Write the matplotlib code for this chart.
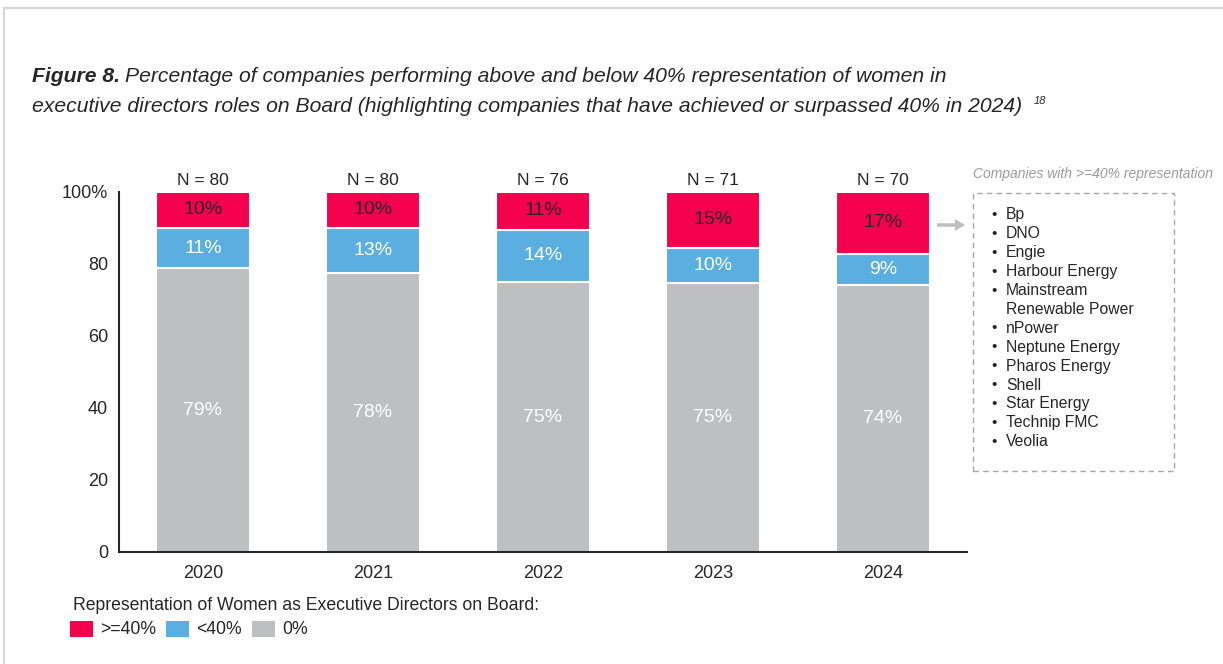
import matplotlib
matplotlib.use("Agg")
from matplotlib import pyplot as plt
from matplotlib.patches import Rectangle, FancyArrow
import numpy as np

plt.rcParams['font.family'] = ['Liberation Sans', 'DejaVu Sans']

years = ['2020', '2021', '2022', '2023', '2024']
n_labels = ['N = 80', 'N = 80', 'N = 76', 'N = 71', 'N = 70']
# share of companies (%)
zero_pct = [78.8, 77.5, 75.0, 74.6, 74.3]
below_pct = [11.2, 12.5, 14.5, 9.9, 8.6]
above_pct = [10.0, 10.0, 10.5, 15.5, 17.1]
zero_lbl = ['79%', '78%', '75%', '75%', '74%']
below_lbl = ['11%', '13%', '14%', '10%', '9%']
above_lbl = ['10%', '10%', '11%', '15%', '17%']
companies = ['Bp', 'DNO', 'Engie', 'Harbour Energy', 'Mainstream\nRenewable Power',
             'nPower', 'Neptune Energy', 'Pharos Energy', 'Shell', 'Star Energy',
             'Technip FMC', 'Veolia']

RED = '#f3004f'
BLUE = '#5aafe0'
GRAY = '#bebfc1'
TXT = '#262626'

W, H = 1223, 664
fig = plt.figure(figsize=(W / 100, H / 100), dpi=100)

# light frame around the figure
fig.patches.append(Rectangle((3.5 / W, -0.01), 1.2, (H - 7.5) / H + 0.01,
                             transform=fig.transFigure, fill=False,
                             edgecolor='#d6d6d6', lw=1.5))

# title
fig.text(32 / W, 1 - 77 / H, 'Figure 8.', fontsize=15.2, style='italic',
         weight='bold', color=TXT, va='center')
fig.text(125 / W, 1 - 77 / H,
         'Percentage of companies performing above and below 40% representation of women in',
         fontsize=15.2, style='italic', color=TXT, va='center')
fig.text(32 / W, 1 - 106 / H,
         'executive directors roles on Board (highlighting companies that have achieved or surpassed 40% in 2024)',
         fontsize=15.2, style='italic', color=TXT, va='center')
fig.text(1034 / W, 1 - 101 / H, '18', fontsize=8, style='italic', color=TXT, va='center')

ax = fig.add_axes([119 / W, 1 - 552 / H, (967 - 119) / W, 360 / H])
x = np.arange(len(years))
bw = 0.553
zero = np.array(zero_pct)
below = np.array(below_pct)
above = np.array(above_pct)

ax.bar(x, zero, bw, color=GRAY, edgecolor='white', lw=1.5)
ax.bar(x, below, bw, bottom=zero, color=BLUE, edgecolor='white', lw=1.5)
ax.bar(x, above, bw, bottom=zero + below, color=RED, edgecolor='white', lw=1.5)

for i in range(len(years)):
    ax.text(x[i], zero[i] / 2, zero_lbl[i], ha='center', va='center',
            color='white', fontsize=14)
    ax.text(x[i], zero[i] + below[i] / 2, below_lbl[i], ha='center', va='center',
            color='white', fontsize=14)
    ax.text(x[i], zero[i] + below[i] + above[i] / 2, above_lbl[i], ha='center',
            va='center', color=TXT, fontsize=14)
    ax.text(x[i], 101.2, n_labels[i], ha='center', va='bottom', color=TXT,
            fontsize=12.5)

ax.set_xlim(-0.494, 4.494)
ax.set_ylim(0, 100)
ax.set_xticks(x)
ax.set_xticklabels(years)
ax.set_yticks([0, 20, 40, 60, 80, 100])
ax.set_yticklabels(['0', '20', '40', '60', '80', '100%'])
ax.tick_params(length=0, labelsize=13, colors=TXT)
ax.tick_params(axis='y', pad=8)
ax.tick_params(axis='x', pad=9)
for s in ['top', 'right']:
    ax.spines[s].set_visible(False)
for s in ['left', 'bottom']:
    ax.spines[s].set_color('#262626')
    ax.spines[s].set_linewidth(1.5)
ax.set_facecolor('none')

# side box with company list
fig.text(973 / W, 1 - 174 / H, 'Companies with >=40% representation', fontsize=10,
         style='italic', color='#9a9a9a', va='center')
fig.patches.append(Rectangle((973 / W, 1 - 471 / H), (1174 - 973) / W, (471 - 193) / H,
                             transform=fig.transFigure, fill=False,
                             edgecolor='#a6a6a6', lw=1.0, ls=(0, (4, 3))))
fig.patches.append(FancyArrow(937 / W, 1 - 225 / H, 18 / W, 0, width=3.5 / H,
                              head_width=12 / H, head_length=10 / W,
                              length_includes_head=False, transform=fig.transFigure,
                              color='#bfbfbf', lw=0))
y = 215
for c in companies:
    fig.text(991 / W, 1 - y / H, '\u2022', fontsize=11, color=TXT, va='center')
    lines = c.split('\n')
    for ln in lines:
        fig.text(1006 / W, 1 - y / H, ln, fontsize=11.3, color=TXT, va='center')
        y += 18.9

# legend
fig.text(73 / W, 1 - 606 / H, 'Representation of Women as Executive Directors on Board:',
         fontsize=12.7, color=TXT, va='center')
leg = [(70, RED, '>=40%'), (166, BLUE, '<40%'), (252, GRAY, '0%')]
for lx, col, lab in leg:
    fig.patches.append(Rectangle((lx / W, 1 - 637 / H), 23 / W, 16 / H,
                                 transform=fig.transFigure, color=col, lw=0))
    fig.text((lx + 30) / W, 1 - 630 / H, lab, fontsize=12.7, color=TXT, va='center')

fig.savefig('out.png', dpi=100)
